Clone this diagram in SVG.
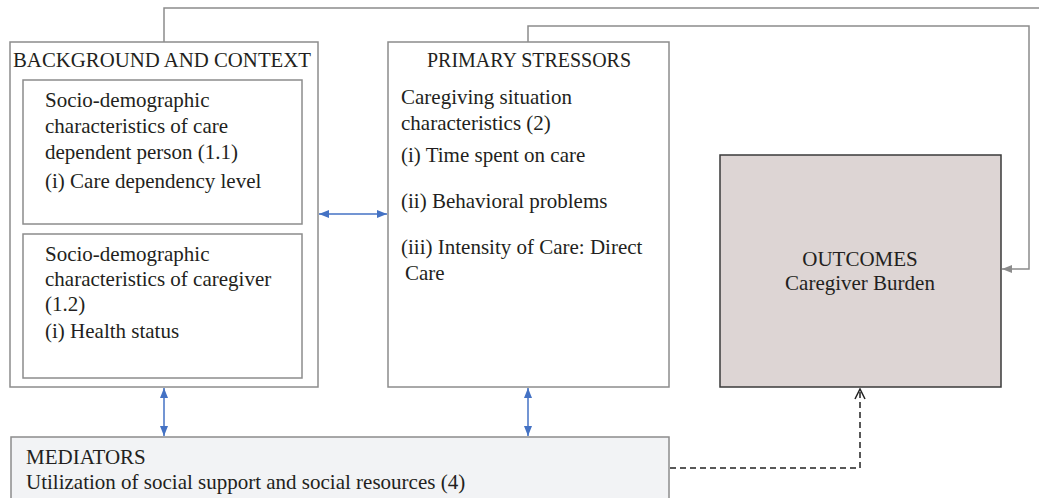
<svg xmlns="http://www.w3.org/2000/svg" width="1039" height="498" viewBox="0 0 1039 498">
<defs>
<style>
.box{fill:#fff;stroke:#8c8c8c;stroke-width:1.5}
.t{font-family:"Liberation Serif",serif;font-size:21px;fill:#231f20}
.gl{fill:none;stroke:#8c8c8c;stroke-width:1.5}
.bl{fill:none;stroke:#4472c4;stroke-width:1.5}
</style>
<marker id="ba" viewBox="0 0 10 10" refX="10" refY="5" markerWidth="10" markerHeight="10" markerUnits="userSpaceOnUse" orient="auto-start-reverse">
<path d="M0,1 L10,5 L0,9 Z" fill="#4472c4"/>
</marker>
<marker id="ga" viewBox="0 0 10 10" refX="10" refY="5" markerWidth="10" markerHeight="10" markerUnits="userSpaceOnUse" orient="auto">
<path d="M0,1 L10,5 L0,9 Z" fill="#8c8c8c"/>
</marker>
<marker id="oa" viewBox="0 0 12 12" refX="11" refY="6" markerWidth="12" markerHeight="12" markerUnits="userSpaceOnUse" orient="auto">
<path d="M1,1 L11,6 L1,11" fill="none" stroke="#222" stroke-width="1.5"/>
</marker>
</defs>
<rect width="1039" height="498" fill="#fff"/>
<g id="connectors">
<path class="gl" d="M164,42 V8 H1039"/>
<path class="gl" d="M528,42 V26 H1029 V269 H1002" marker-end="url(#ga)"/>
<path class="bl" d="M319,214 H387" marker-start="url(#ba)" marker-end="url(#ba)"/>
<path class="bl" d="M164,388 V436" marker-start="url(#ba)" marker-end="url(#ba)"/>
<path class="bl" d="M528,388 V436" marker-start="url(#ba)" marker-end="url(#ba)"/>
<path d="M670,468 H860 V389" fill="none" stroke="#222" stroke-width="1.5" stroke-dasharray="6,4" marker-end="url(#oa)"/>
</g>
<g id="background">
<rect class="box" x="10" y="42" width="308" height="345"/>
<text class="t" x="13" y="67" textLength="298" lengthAdjust="spacingAndGlyphs">BACKGROUND AND CONTEXT</text>
</g>
<g id="care-dependent">
<rect class="box" x="23" y="80" width="279" height="144"/>
<text class="t" x="45" y="107">Socio-demographic</text>
<text class="t" x="45" y="133">characteristics of care</text>
<text class="t" x="45" y="159">dependent person (1.1)</text>
<text class="t" x="45" y="188">(i) Care dependency level</text>
</g>
<g id="caregiver">
<rect class="box" x="23" y="234" width="279" height="144"/>
<text class="t" x="45" y="261">Socio-demographic</text>
<text class="t" x="45" y="286">characteristics of caregiver</text>
<text class="t" x="45" y="311">(1.2)</text>
<text class="t" x="45" y="338">(i) Health status</text>
</g>
<g id="primary">
<rect class="box" x="388" y="42" width="281" height="345"/>
<text class="t" x="529" y="67" text-anchor="middle" textLength="204" lengthAdjust="spacingAndGlyphs">PRIMARY STRESSORS</text>
<text class="t" x="401" y="104">Caregiving situation</text>
<text class="t" x="401" y="130">characteristics (2)</text>
<text class="t" x="401" y="162">(i) Time spent on care</text>
<text class="t" x="401" y="208">(ii) Behavioral problems</text>
<text class="t" x="401" y="254">(iii) Intensity of Care: Direct</text>
<text class="t" x="405" y="280">Care</text>
</g>
<g id="outcomes">
<rect x="720" y="155" width="281" height="232" fill="#ddd5d4" stroke="#3a3a3a" stroke-width="1.5"/>
<text class="t" x="860" y="266" text-anchor="middle">OUTCOMES</text>
<text class="t" x="860" y="290" text-anchor="middle">Caregiver Burden</text>
</g>
<g id="mediators">
<rect x="11" y="437" width="658" height="70" fill="#f2f3f5" stroke="#8c8c8c" stroke-width="1.5"/>
<text class="t" x="26" y="464">MEDIATORS</text>
<text class="t" x="26" y="489">Utilization of social support and social resources (4)</text>
</g>
</svg>
